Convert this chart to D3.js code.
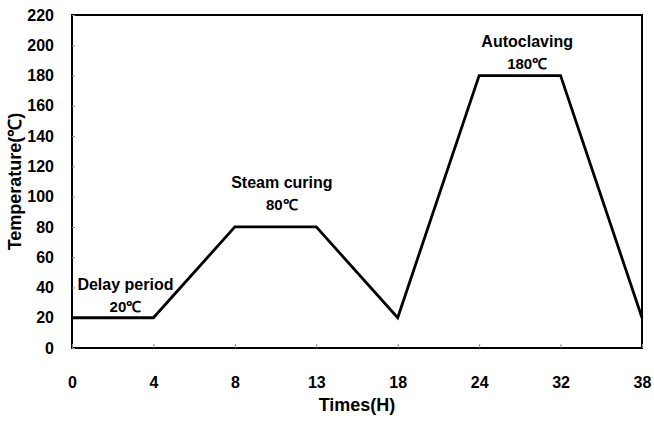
<!DOCTYPE html>
<html><head><meta charset="utf-8">
<script src="https://cdn.jsdelivr.net/npm/d3@7"></script>
<style>body{margin:0;background:#fff}svg{display:block}text{font-family:"Liberation Sans",Arial,sans-serif;font-weight:bold;fill:#000}</style>
</head><body>
<script>
const times = ["0","4","8","13","18","24","32","38"];
const temps = [20,20,80,80,20,180,180,20];
const yTicks = [0,20,40,60,80,100,120,140,160,180,200,220];
const notes = [
  {x:"4", dx:-28, y:38, lines:["Delay period","20℃"]},
  {x:"8", dx:47, y:105.5, lines:["Steam curing","80℃"]},
  {x:"24", dx:48, y:199, lines:["Autoclaving","180℃"]}
];

const W=654,H=423, L=72,R=642,T=15,B=348;
const svg=d3.select("body").append("svg").attr("width",W).attr("height",H);
const x=d3.scalePoint().domain(times).range([L,R]);
const y=d3.scaleLinear().domain([0,220]).range([B,T]);

svg.append("rect").attr("x",L).attr("y",T).attr("width",R-L).attr("height",B-T)
  .attr("fill","none").attr("stroke","#000").attr("stroke-width",2);

const ya=svg.append("g").attr("transform",`translate(${L},0)`)
  .call(d3.axisLeft(y).tickValues(yTicks).tickSize(-3).tickPadding(18));
ya.select(".domain").remove();
ya.selectAll("line").attr("stroke","#888");
ya.selectAll("text").attr("font-size",16).attr("font-family","Liberation Sans, Arial, sans-serif").attr("font-weight","bold").attr("fill","#000");

const xa=svg.append("g").attr("transform",`translate(0,${B})`)
  .call(d3.axisBottom(x).tickSize(-4).tickPadding(29));
xa.select(".domain").remove();
xa.selectAll("line").attr("stroke","#888");
xa.selectAll("text").attr("font-size",16).attr("font-family","Liberation Sans, Arial, sans-serif").attr("font-weight","bold").attr("fill","#000");

const line=d3.line().x((d,i)=>x(times[i])).y(d=>y(d));
svg.append("path").datum(temps).attr("d",line).attr("fill","none")
  .attr("stroke","#000").attr("stroke-width",2.8).attr("stroke-linejoin","miter");

notes.forEach(n=>{
  const cx=x(n.x)+n.dx, cy=y(n.y);
  n.lines.forEach((t,i)=>{
    svg.append("text").attr("x",cx).attr("y",cy+i*22).attr("text-anchor","middle")
      .attr("font-size",i===0?16:15).text(t);
  });
});

svg.append("text").attr("x",(L+R)/2).attr("y",411).attr("text-anchor","middle")
  .attr("font-size",18).text("Times(H)");
svg.append("text").attr("transform",`translate(21,${(T+B)/2}) rotate(-90)`)
  .attr("text-anchor","middle").attr("font-size",18).text("Temperature(℃)");
</script>
</body></html>
